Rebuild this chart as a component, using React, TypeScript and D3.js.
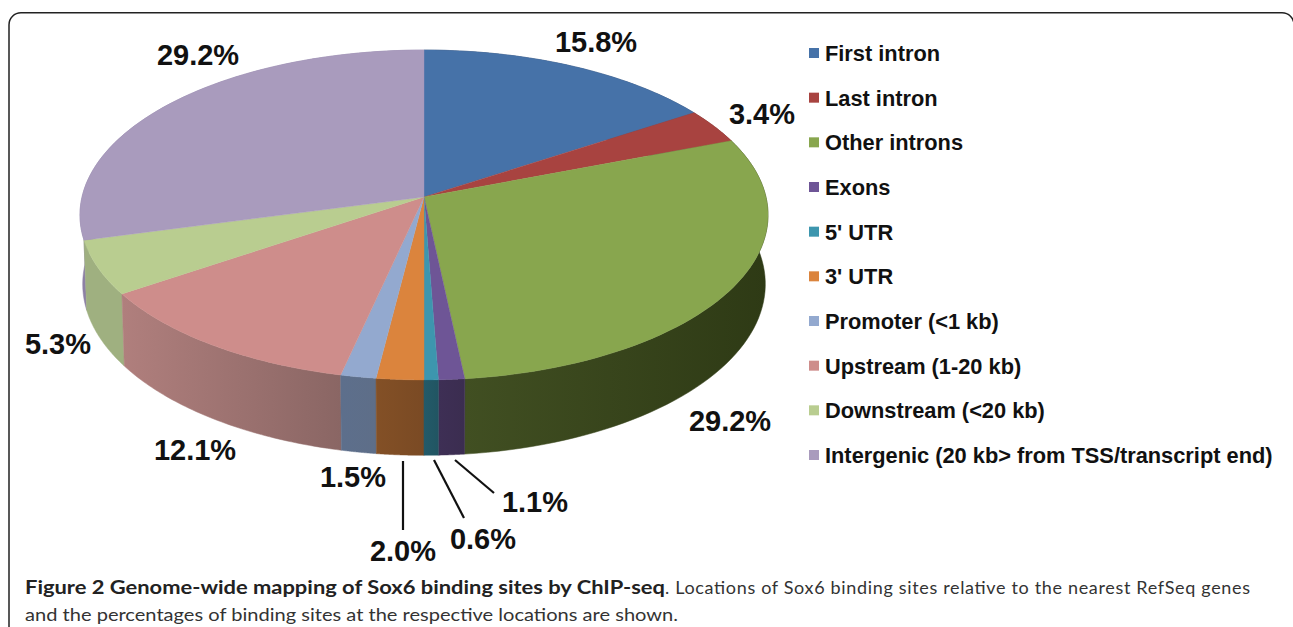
import React from "react";
import * as d3 from "d3";

const categories = ["First intron","Last intron","Other introns","Exons","5' UTR","3' UTR","Promoter (<1 kb)","Upstream (1-20 kb)","Downstream (<20 kb)","Intergenic (20 kb> from TSS/transcript end)"];
const values = [15.8,3.4,29.2,1.1,0.6,2.0,1.5,12.1,5.3,29.2];
const valueLabels = ["15.8%","3.4%","29.2%","1.1%","0.6%","2.0%","1.5%","12.1%","5.3%","29.2%"];
const colors = ["#4672a8","#a84340","#88a64e","#6e5596","#3d96ae","#db843d","#93a9cf","#ce8d8b","#b9cd90","#a99bbd"];
const sideLeft = ["#2f4a6e","#6e2c2a","#414f22","#3e2f55","#235a69","#835026","#5d6f8c","#b07f7d","#9fb080","#8d80a5"];
const sideRight = ["#2f4a6e","#6e2c2a","#2e3a15","#3b2d50","#215562","#7a4a24","#5e6e88","#8a6664","#9fb080","#8d80a5"];
const labelPos: [number,number][] = [[596,52],[762,124],[730,431],[535,512],[483,549],[403,561],[353,487],[195,460],[58,354],[198,65]];
const leaders: [number,number,number,number][] = [[455,460,494,493],[434,460,464,518],[403,461,403,530]];

const W = 1293, H = 627;
const cx = 424, cy = 197, A = 342, B = 163, P = 0.109, Depth = 69, S = 1.008;

function project(theta: number, lower: boolean): [number,number] {
  const u = Math.sin(theta), v = Math.cos(theta);
  const w = 1 + P * v;
  if (!lower) return [cx + A * u / w, cy - B * v / w];
  return [cx + A * u / (w * S), cy + (Depth - B * v) / (w * S)];
}

export default function App() {
  const arcs = d3.pie<number>().sort(null).value(d => d)(values);
  const line = d3.line();
  const sampled = (a: number, b: number) => d3.range(0, 61).map(i => a + (b - a) * i / 60);
  const top = arcs.map(s => line([[cx, cy], ...sampled(s.startAngle, s.endAngle).map(t => project(t, false))])! + "Z");
  const side = arcs.map(s => {
    const ts = sampled(s.startAngle, s.endAngle);
    return line([...ts.map(t => project(t, false)), ...ts.slice().reverse().map(t => project(t, true))])! + "Z";
  });
  const order = d3.range(arcs.length).sort((i, j) => Math.cos((arcs[j].startAngle + arcs[j].endAngle) / 2) - Math.cos((arcs[i].startAngle + arcs[i].endAngle) / 2));
  const legendY = d3.scalePoint<string>().domain(categories).range([54, 456]);
  const labelFont = "'Liberation Sans', Arial, sans-serif";
  const capFont = "Lato, 'Noto Sans', sans-serif";
  return (
    <svg width={W} height={H} viewBox={`0 0 ${W} ${H}`} style={{ position: "absolute", left: 0, top: 0, background: "#fff" }}>
      <defs>
        {arcs.map((s, i) => {
          const xs = sampled(s.startAngle, s.endAngle).map(t => project(t, false)[0]);
          return (
            <linearGradient key={i} id={`side${i}`} gradientUnits="userSpaceOnUse" x1={d3.min(xs)} x2={d3.max(xs)} y1={0} y2={0}>
              <stop offset="0" stopColor={sideLeft[i]} />
              <stop offset="1" stopColor={sideRight[i]} />
            </linearGradient>
          );
        })}
      </defs>
      <rect x={9} y={12.7} width={1285} height={640} rx={12} fill="none" stroke="#222" strokeWidth={1.5} />
      <g>
        {order.map(i => <path key={i} d={side[i]} fill={`url(#side${i})`} stroke={`url(#side${i})`} strokeWidth={0.5} />)}
      </g>
      <g>
        {top.map((d, i) => <path key={i} d={d} fill={colors[i]} stroke={colors[i]} strokeWidth={0.4} />)}
      </g>
      <g stroke="#111" strokeWidth={2.2}>
        {leaders.map((l, i) => <line key={i} x1={l[0]} y1={l[1]} x2={l[2]} y2={l[3]} />)}
      </g>
      <g fontFamily={labelFont} fontWeight="bold" fontSize={29} fill="#111" textAnchor="middle">
        {valueLabels.map((t, i) => <text key={i} x={labelPos[i][0]} y={labelPos[i][1]}>{t}</text>)}
      </g>
      <g fontFamily={labelFont} fontWeight="bold" fontSize={21.8} fill="#111">
        {categories.map((c, i) => (
          <g key={c}>
            <rect x={809} y={legendY(c)! - 6} width={10} height={10} fill={colors[i]} />
            <text x={825} y={legendY(c)! + 7}>{c}</text>
          </g>
        ))}
      </g>
      <g fontFamily={capFont} fontSize={18} fill="#222">
        <text x={25} y={593.5} fontWeight="bold" textLength={640} lengthAdjust="spacingAndGlyphs">Figure 2 Genome-wide mapping of Sox6 binding sites by ChIP-seq</text>
        <text x={665} y={593.5} fill="#333" textLength={585} lengthAdjust="spacing">. Locations of Sox6 binding sites relative to the nearest RefSeq genes</text>
        <text x={25} y={620.5} fill="#333" textLength={653} lengthAdjust="spacingAndGlyphs">and the percentages of binding sites at the respective locations are shown.</text>
      </g>
    </svg>
  );
}
